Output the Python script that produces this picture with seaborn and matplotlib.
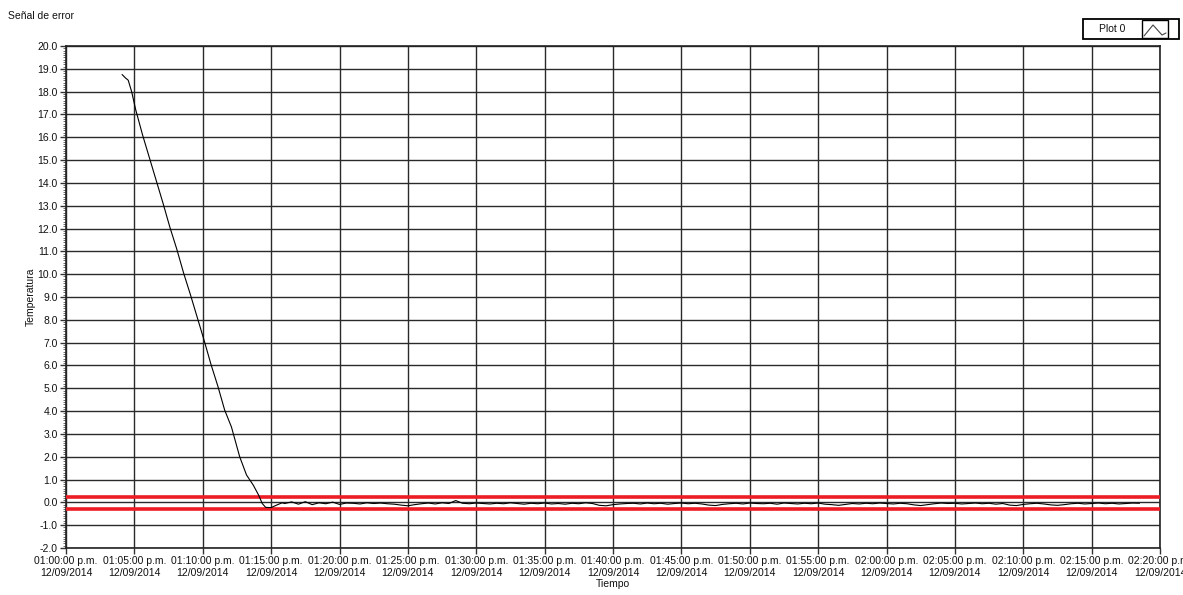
import matplotlib
matplotlib.use("Agg")
import matplotlib.pyplot as plt
import seaborn as sns
import pandas as pd
from matplotlib.patches import Rectangle
from matplotlib.lines import Line2D
from matplotlib.ticker import MultipleLocator, FormatStrFormatter

# ---------------- data (minutes after 01:00:00 p.m.) ----------------
descent_min = [4.1, 4.35, 4.55, 4.8, 5.1, 5.6, 6.1, 6.6, 7.1, 7.6, 8.1, 8.6, 9.1, 9.6,
               10.1, 10.6, 11.1, 11.6, 12.1, 12.7, 13.2, 13.7, 14.1, 14.35, 14.6, 15.0,
               15.4, 15.8]
descent_val = [18.75, 18.6, 18.5, 18.0, 17.2, 16.1, 15.1, 14.1, 13.1, 12.05, 11.1, 10.05,
               9.1, 8.1, 7.1, 6.05, 5.1, 4.05, 3.3, 2.0, 1.2, 0.75, 0.3, -0.05, -0.22,
               -0.23, -0.12, -0.02]

steady_min = [16.0, 16.5, 17.0, 17.5, 18.0, 18.5, 19.0, 19.5, 20.0, 20.5,
              21.0, 21.5, 22.0, 22.5, 23.0, 23.5, 24.0, 24.5, 25.0, 25.5,
              26.0, 26.5, 27.0, 27.5, 28.0, 28.5, 29.0, 29.5, 30.0, 30.5,
              31.0, 31.5, 32.0, 32.5, 33.0, 33.5, 34.0, 34.5, 35.0, 35.5,
              36.0, 36.5, 37.0, 37.5, 38.0, 38.5, 39.0, 39.5, 40.0, 40.5,
              41.0, 41.5, 42.0, 42.5, 43.0, 43.5, 44.0, 44.5, 45.0, 45.5,
              46.0, 46.5, 47.0, 47.5, 48.0, 48.5, 49.0, 49.5, 50.0, 50.5,
              51.0, 51.5, 52.0, 52.5, 53.0, 53.5, 54.0, 54.5, 55.0, 55.5,
              56.0, 56.5, 57.0, 57.5, 58.0, 58.5, 59.0, 59.5, 60.0, 60.5,
              61.0, 61.5, 62.0, 62.5, 63.0, 63.5, 64.0, 64.5, 65.0, 65.5,
              66.0, 66.5, 67.0, 67.5, 68.0, 68.5, 69.0, 69.5, 70.0, 70.5,
              71.0, 71.5, 72.0, 72.5, 73.0, 73.5, 74.0, 74.5, 75.0, 75.5,
              76.0, 76.5, 77.0, 77.5, 78.0, 78.5]
steady_val = [-0.05, 0.02, -0.08, 0.03, -0.10, -0.02, -0.06, 0.01, -0.09, -0.03,
              -0.04, -0.07, -0.02, -0.05, -0.03, -0.06, -0.08, -0.12, -0.15, -0.10,
              -0.06, -0.03, -0.07, -0.02, -0.05, 0.08, -0.04, -0.06, -0.03, -0.05,
              -0.07, -0.04, -0.06, -0.02, -0.05, -0.08, -0.04, -0.06, -0.03, -0.07,
              -0.05, -0.08, -0.04, -0.06, -0.02, -0.05, -0.13, -0.15, -0.10, -0.07,
              -0.05, -0.04, -0.07, -0.03, -0.06, -0.04, -0.08, -0.05, -0.03, -0.06,
              -0.04, -0.07, -0.12, -0.14, -0.09, -0.06, -0.04, -0.07, -0.03, -0.05,
              -0.06, -0.04, -0.08, -0.03, -0.05, -0.07, -0.04, -0.06, -0.03, -0.08,
              -0.10, -0.13, -0.09, -0.05, -0.07, -0.04, -0.06, -0.03, -0.05, -0.07,
              -0.04, -0.06, -0.11, -0.14, -0.10, -0.06, -0.03, -0.05, -0.04, -0.07,
              -0.05, -0.03, -0.06, -0.04, -0.08, -0.05, -0.12, -0.14, -0.09, -0.06,
              -0.04, -0.07, -0.11, -0.13, -0.10, -0.06, -0.04, -0.07, -0.05, -0.03,
              -0.06, -0.04, -0.07, -0.05, -0.03, -0.04]

limit_upper = 0.22
limit_lower = -0.30

tick_minutes = [0, 5, 10, 15, 20, 25, 30, 35, 40, 45, 50, 55, 60, 65, 70, 75, 80]
tick_labels = ["01:00:00 p.m.", "01:05:00 p.m.", "01:10:00 p.m.", "01:15:00 p.m.",
               "01:20:00 p.m.", "01:25:00 p.m.", "01:30:00 p.m.", "01:35:00 p.m.",
               "01:40:00 p.m.", "01:45:00 p.m.", "01:50:00 p.m.", "01:55:00 p.m.",
               "02:00:00 p.m.", "02:05:00 p.m.", "02:10:00 p.m.", "02:15:00 p.m.",
               "02:20:00 p.m."]
date_label = "12/09/2014"

# ---------------- figure ----------------
sns.set_theme(style="white")
plt.rcParams['font.family'] = ['Liberation Sans', 'DejaVu Sans']

W, H = 1183, 595
fig = plt.figure(figsize=(W / 100, H / 100), dpi=100)
ax = fig.add_axes([66 / W, (H - 548) / H, (1160 - 66) / W, (548 - 46) / H])

df = pd.DataFrame({"t": descent_min + steady_min, "v": descent_val + steady_val})
sns.lineplot(data=df, x="t", y="v", ax=ax, color="black", linewidth=0.8,
             estimator=None, sort=False, zorder=4)

ax.axhline(limit_upper, color="#ee1c24", linewidth=2.6, zorder=3)
ax.axhline(limit_lower, color="#ee1c24", linewidth=2.6, zorder=3)

ax.set_xlim(0, 80)
ax.set_ylim(-2, 20)
ax.set_xticks(tick_minutes)
ax.set_xticklabels([f"{l}\n{date_label}" for l in tick_labels], fontsize=7.5,
                   color="#111111", linespacing=1.15)
ax.yaxis.set_major_locator(MultipleLocator(1))
ax.yaxis.set_minor_locator(MultipleLocator(0.1))
ax.yaxis.set_major_formatter(FormatStrFormatter("%.1f"))
ax.tick_params(axis="y", labelsize=7.5, labelcolor="#111111")
ax.tick_params(axis="both", which="major", direction="out", length=4, width=1,
               color="#333333", left=True, bottom=True, pad=2)
ax.tick_params(axis="y", which="minor", direction="out", length=2.5, width=0.6,
               color="#555555", left=True)

ax.grid(True, which="major", color="#2a2a2a", linewidth=1.0, zorder=0)
ax.set_axisbelow(True)
for s in ax.spines.values():
    s.set_visible(True)
    s.set_color("#222222")
    s.set_linewidth(1.2)

ax.set_xlabel("Tiempo", fontsize=7.5, labelpad=1, color="#111111")
ax.set_ylabel("Temperatura", fontsize=7.5, labelpad=1, color="#111111")

fig.text(8 / W, 1 - 16 / H, "Señal de error", fontsize=7.5, va="center", ha="left",
         color="#111111")

# legend box "Plot 0"
def fx(px):
    return px / W

def fy(py):
    return 1 - py / H

fig.patches.append(Rectangle((fx(1083), fy(39)), fx(1179) - fx(1083), fy(19) - fy(39),
                             transform=fig.transFigure, fill=False, edgecolor="black",
                             linewidth=1.3))
fig.patches.append(Rectangle((fx(1142), fy(38)), fx(1168) - fx(1142), fy(20) - fy(38),
                             transform=fig.transFigure, fill=False, edgecolor="black",
                             linewidth=1.0))
fig.lines.append(Line2D([fx(1144), fx(1153), fx(1162), fx(1166)],
                        [fy(36), fy(25), fy(35), fy(33)], transform=fig.transFigure,
                        color="#444444", linewidth=0.8))
fig.text(fx(1112), fy(29), "Plot 0", fontsize=7.5, ha="center", va="center",
         color="#111111")

fig.savefig("out.png", dpi=100)
